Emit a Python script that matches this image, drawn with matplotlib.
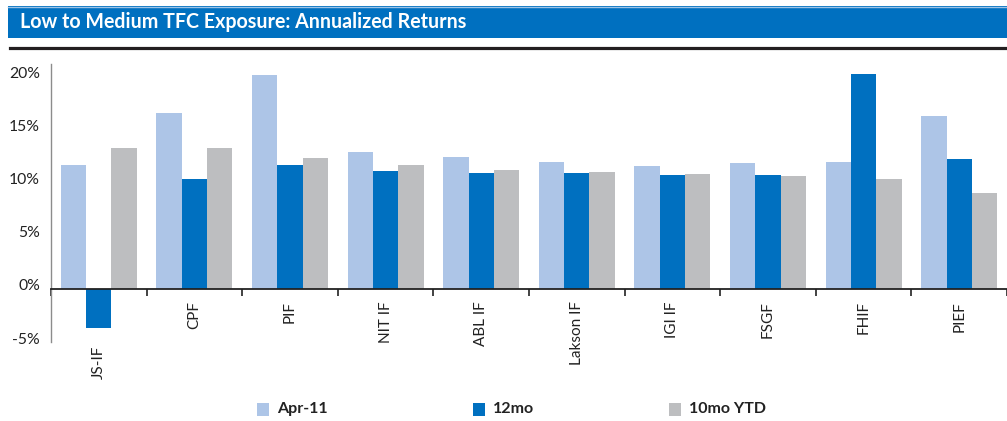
import numpy as np
import matplotlib
matplotlib.use("Agg")
from matplotlib import pyplot as plt
from matplotlib.patches import Rectangle
from matplotlib.lines import Line2D
from matplotlib.transforms import ScaledTranslation

plt.rcParams['font.family'] = ['Lato', 'DejaVu Sans']

funds = ["JS-IF", "CPF", "PIF", "NIT IF", "ABL IF", "Lakson IF", "IGI IF", "FSGF", "FHIF", "PIEF"]
apr11 = [11.7, 16.6, 20.2, 12.9, 12.4, 12.0, 11.6, 11.9, 12.0, 16.3]
mo12 = [-3.7, 10.4, 11.7, 11.1, 10.9, 10.9, 10.7, 10.7, 20.3, 12.2]
ytd10 = [13.3, 13.3, 12.3, 11.7, 11.2, 11.0, 10.8, 10.6, 10.4, 9.0]
series_names = ["Apr-11", "12mo", "10mo YTD"]
colors = ["#ADC5E7", "#0070C0", "#BDBEC0"]
yticks = [-5, 0, 5, 10, 15, 20]

W, H = 1007, 421
fig = plt.figure(figsize=(W / 100, H / 100), dpi=100)

def fx(px):
    return px / W

def fy(py):
    return 1 - py / H

# title bar
fig.patches.append(Rectangle((fx(8), fy(38)), fx(W - 8), (38 - 6) / H,
                             transform=fig.transFigure, facecolor="#0070C0",
                             edgecolor="none"))
fig.lines.append(Line2D([fx(8), 1], [fy(6.5), fy(6.5)], transform=fig.transFigure,
                        color="#9DC3E6", lw=1))
fig.text(fx(20), fy(22), "Low to Medium TFC Exposure: Annualized Returns",
         color="white", fontsize=14.1, fontweight="bold", va="center", ha="left")
fig.lines.append(Line2D([fx(10), 1], [fy(48), fy(48)], transform=fig.transFigure,
                        color="#231F20", lw=2.3))

ax = fig.add_axes([fx(51), fy(342), fx(W - 51), (342 - 64) / H])
x = np.arange(len(funds))
bw = 0.265
for i, (vals, c) in enumerate(zip([apr11, mo12, ytd10], colors)):
    ax.bar(x + (i - 1) * bw, vals, bw, color=c, label=series_names[i])

ax.set_xlim(-0.5, len(funds) - 0.5)
ax.set_ylim(-5, 21.2)
ax.set_yticks(yticks)
ax.set_yticklabels([f"{v}%" for v in yticks], fontsize=11.3, color="#222222")
ax.tick_params(axis="y", length=0, pad=8)
# Excel draws the value labels a little above the gridline value
up = ScaledTranslation(0, 4 / 100, fig.dpi_scale_trans)
for lab in ax.get_yticklabels():
    lab.set_transform(lab.get_transform() + up)

ax.spines["top"].set_visible(False)
ax.spines["right"].set_visible(False)
ax.spines["left"].set_color("#8C8C8C")
ax.spines["left"].set_linewidth(1)
ax.spines["bottom"].set_position(("data", 0))
ax.spines["bottom"].set_color("#222222")
ax.spines["bottom"].set_linewidth(1.3)
ax.set_xticks(np.arange(len(funds) + 1) - 0.5)
ax.set_xticklabels([])
ax.tick_params(axis="x", length=5, width=1.2, color="#222222", direction="out")

for i, name in enumerate(funds):
    ytop = (342 - 301) / 278 if name != "JS-IF" else (342 - 346) / 278
    ax.text(i, ytop, name, transform=ax.get_xaxis_transform(), rotation=90,
            ha="center", va="top", fontsize=11, color="#222222")

# legend
leg_x = [257, 473, 669]
for px, name, c in zip(leg_x, series_names, colors):
    fig.patches.append(Rectangle((fx(px), fy(416)), fx(12), 13 / H,
                                 transform=fig.transFigure, facecolor=c,
                                 edgecolor="none"))
    fig.text(fx(px + 20), fy(409), name, fontsize=11.5, fontweight="bold",
             color="#222222", va="center", ha="left")

fig.savefig("out.png", dpi=100)
